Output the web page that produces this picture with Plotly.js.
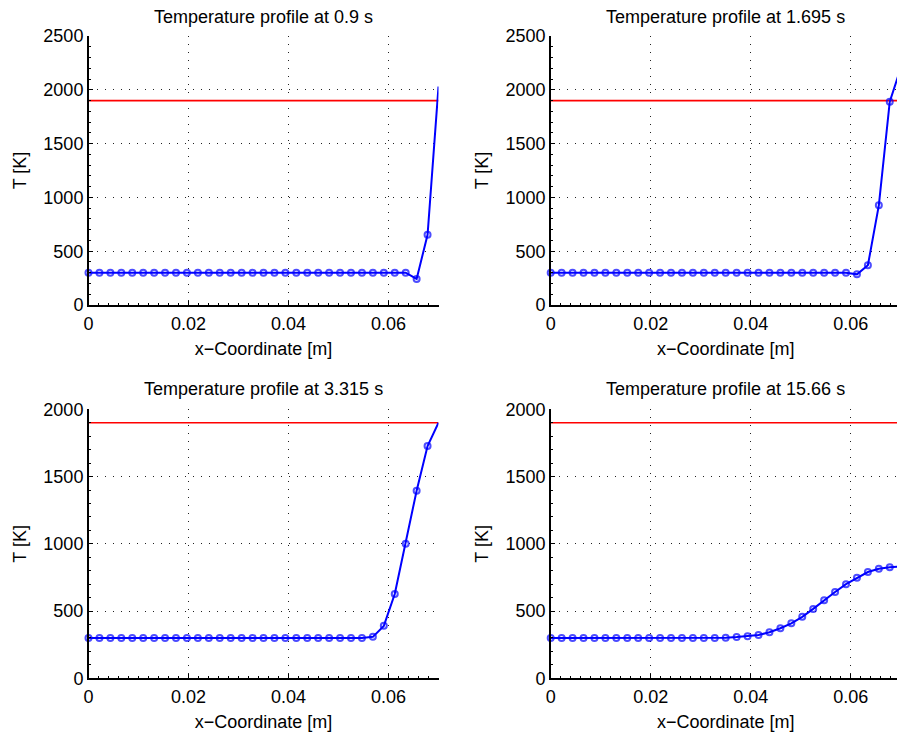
<!DOCTYPE html>
<html>
<head>
<meta charset="utf-8">
<script src="https://cdn.plot.ly/plotly-3.0.1.min.js"></script>
<style>
  html, body { margin: 0; padding: 0; overflow: hidden; background: #fff; }
  #chart { width: 902px; height: 735px; }
</style>
</head>
<body>
<div id="chart"></div>
<script>
// x-coordinates of the grid nodes [m]
const xNodes = [0, 0.0021875, 0.004375, 0.0065625, 0.00875, 0.0109375, 0.013125, 0.0153125,
  0.0175, 0.0196875, 0.021875, 0.0240625, 0.02625, 0.0284375, 0.030625, 0.0328125,
  0.035, 0.0371875, 0.039375, 0.0415625, 0.04375, 0.0459375, 0.048125, 0.0503125,
  0.0525, 0.0546875, 0.056875, 0.0590625, 0.06125, 0.0634375, 0.065625, 0.0678125, 0.07];

// Temperature profiles [K]
const T_0_9 = [300, 300, 300, 300, 300, 300, 300, 300, 300, 300, 300, 300, 300, 300, 300, 300,
  300, 300, 300, 300, 300, 300, 300, 300, 300, 300, 300, 300, 300, 300, 242, 653, 2030];
const T_1_695 = [300, 300, 300, 300, 300, 300, 300, 300, 300, 300, 300, 300, 300, 300, 300, 300,
  300, 300, 300, 300, 300, 300, 300, 300, 300, 300, 300, 300, 285, 369, 926, 1890, 2200];
const T_3_315 = [300, 300, 300, 300, 300, 300, 300, 300, 300, 300, 300, 300, 300, 300, 300, 300,
  300, 300, 300, 300, 300, 300, 300, 300, 300, 300, 308, 390, 627, 1000, 1395, 1727, 1900];
const T_15_66 = [300, 300, 300, 300, 300, 300, 300, 300, 300, 300, 300, 300, 300, 300, 300, 300,
  302, 307, 312, 322, 342, 372, 409, 457, 516, 580, 642, 700, 748, 790, 815, 826, 830];

const times = ["0.9", "1.695", "3.315", "15.66"];
const profiles = [T_0_9, T_1_695, T_3_315, T_15_66];
const thresholdT = [1900, 1900];
const thresholdX = [0, 0.07];
const yMax = [2500, 2500, 2000, 2000];
const xTicks = [0, 0.02, 0.04, 0.06];
const xTickText = ["0", "0.02", "0.04", "0.06"];

const W = 902, H = 735;
const FONT = "Liberation Sans, Arial, Helvetica, sans-serif";
const px = (a) => a / W;
const py = (b) => 1 - b / H;

const xDomains = [[px(88.5), px(438.5)], [px(550.7), px(900.7)], [px(88.5), px(438.5)], [px(550.7), px(900.7)]];
const yDomains = [[py(305), py(36)], [py(305), py(36)], [py(678.3), py(409.3)], [py(678.3), py(409.3)]];
const titleY = [16.5, 16.5, 388.5, 388.5];

const data = [];
const layout = {
  width: W, height: H,
  margin: {l: 0, r: 0, t: 0, b: 0},
  paper_bgcolor: "#fff", plot_bgcolor: "#fff",
  showlegend: false,
  font: {family: FONT, size: 18, color: "#000"},
  annotations: []
};

profiles.forEach((T, i) => {
  const s = i === 0 ? "" : String(i + 1);
  const xa = "x" + s, ya = "y" + s;
  data.push({
    x: thresholdX, y: thresholdT, xaxis: xa, yaxis: ya,
    mode: "lines", line: {color: "#ff0000", width: 1.7}, hoverinfo: "skip"
  });
  data.push({
    x: xNodes, y: T, xaxis: xa, yaxis: ya,
    mode: "lines+markers", cliponaxis: false,
    line: {color: "#0000ff", width: 2},
    marker: {symbol: "circle-open", color: "#0000ff",
             size: T.map((v, k) => k === T.length - 1 ? 0 : 6),
             line: {width: 2, color: "#0000ff"}}
  });
  const common = {
    showline: true, linecolor: "#000", linewidth: 1.5,
    ticks: "inside", ticklen: 4, tickwidth: 1, tickcolor: "#000",
    showgrid: true, gridcolor: "#222", gridwidth: 1, griddash: "1px,7px",
    zeroline: false, tickfont: {family: FONT, size: 18, color: "#000"},
    automargin: false, fixedrange: true
  };
  layout["xaxis" + s] = Object.assign({}, common, {
    domain: xDomains[i], anchor: ya, range: [0, 0.07],
    tickmode: "array", tickvals: xTicks, ticktext: xTickText,
    ticklabelstandoff: 2,
    minor: {dtick: 0.002, tick0: 0, ticks: "inside", ticklen: 2, tickcolor: "#000", showgrid: false},
    title: {text: "x\u2212Coordinate [m]", font: {family: FONT, size: 18, color: "#000"}, standoff: 9}
  });
  layout["yaxis" + s] = Object.assign({}, common, {
    domain: yDomains[i], anchor: xa, range: [0, yMax[i]],
    dtick: 500, tick0: 0,
    minor: {dtick: 100, tick0: 0, ticks: "inside", ticklen: 2, tickcolor: "#000", showgrid: false},
    title: {text: "T [K]", font: {family: FONT, size: 18, color: "#000"}, standoff: 12}
  });
  layout.annotations.push({
    text: "Temperature profile at " + times[i] + " s",
    xref: "paper", yref: "paper",
    x: (xDomains[i][0] + xDomains[i][1]) / 2, y: py(titleY[i]),
    xanchor: "center", yanchor: "middle", showarrow: false,
    font: {family: FONT, size: 18, color: "#000"}
  });
});

Plotly.newPlot("chart", data, layout, {displayModeBar: false, staticPlot: true});
</script>
</body>
</html>
